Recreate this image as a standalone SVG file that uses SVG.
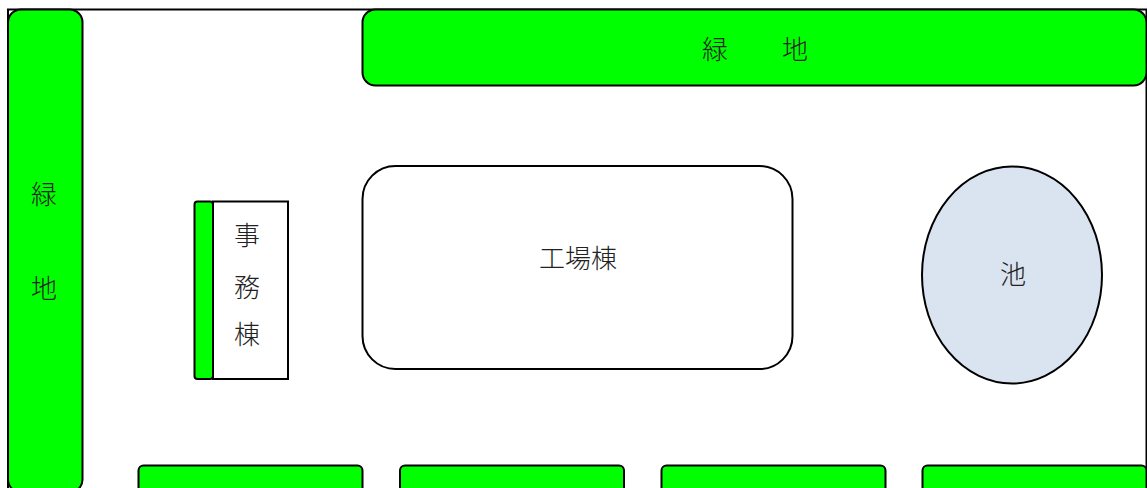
<svg xmlns="http://www.w3.org/2000/svg" width="1147" height="488" viewBox="0 0 1147 488">
<style>
.g{fill:#00ff00;stroke:#000;stroke-width:2}
.w{fill:#fff;stroke:#000;stroke-width:2}
text{font-family:"Noto Sans CJK JP","Liberation Serif",serif;font-weight:300;fill:#222;text-anchor:middle}
.t{font-size:26px}
</style>
<rect width="1147" height="488" fill="#fff"/>
<g id="site"><path d="M8 488V9.500H1146.500V488" fill="#fff" stroke="#000" stroke-width="2"/></g>
<g id="green-left"><rect class="g" x="8" y="9.500" width="74.500" height="483" rx="13"/><text class="t" x="44" y="204">緑</text><text class="t" x="44" y="298">地</text></g>
<g id="green-top"><rect class="g" x="362.500" y="9.500" width="784" height="76" rx="13"/><text class="t" x="715" y="59">緑</text><text class="t" x="795" y="59">地</text></g>
<g id="office"><rect class="w" x="213" y="201.500" width="75" height="177.500"/><rect class="g" x="194.500" y="201.500" width="18.500" height="177.500" rx="3"/><text class="t" x="247" y="245">事</text><text class="t" x="247" y="297">務</text><text class="t" x="247" y="344">棟</text></g>
<g id="factory"><rect class="w" x="362.500" y="166" width="430" height="203" rx="33"/><text class="t" x="578" y="268">工場棟</text></g>
<g id="pond"><ellipse cx="1012" cy="275" rx="90" ry="108.500" fill="#dae3f0" stroke="#000" stroke-width="2"/><text class="t" x="1013" y="284">池</text></g>
<g id="green-bottom-1"><rect class="g" x="138.500" y="465.500" width="224" height="40" rx="5"/></g>
<g id="green-bottom-2"><rect class="g" x="400" y="465.500" width="224" height="40" rx="5"/></g>
<g id="green-bottom-3"><rect class="g" x="661.500" y="465.500" width="224" height="40" rx="5"/></g>
<g id="green-bottom-4"><rect class="g" x="922.500" y="465.500" width="224" height="40" rx="5"/></g>
<g id="connectors"/>
</svg>
